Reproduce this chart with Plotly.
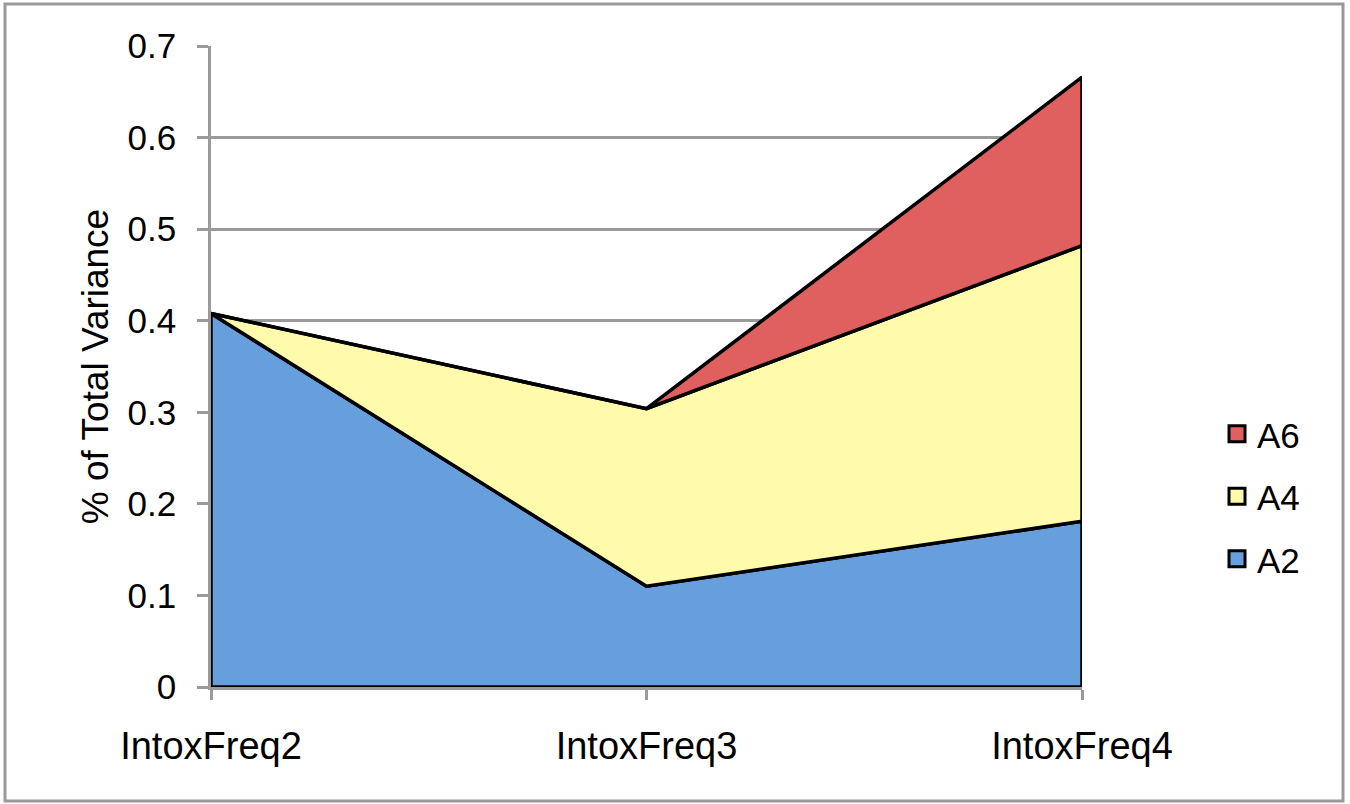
import plotly.graph_objects as go

# Variance components per intoxication-frequency model
categories = ["IntoxFreq2", "IntoxFreq3", "IntoxFreq4"]
series_names = ["A2", "A4", "A6"]
a2 = [0.408, 0.110, 0.181]
a4 = [0.0, 0.194, 0.301]
a6 = [0.0, 0.0, 0.184]
fills = ["#669FDC", "#FFFBAB", "#E06060"]

W, H = 1350, 804
L, R, T, B = 211, 268, 46, 117

fig = go.Figure()

# Build each stacked band as a closed polygon so every edge is outlined
lower = [0.0] * len(categories)
for name, vals, col in zip(series_names, [a2, a4, a6], fills):
    upper = [lo + v for lo, v in zip(lower, vals)]
    xs = categories + categories[::-1] + [categories[0]]
    ys = upper + lower[::-1] + [upper[0]]
    fig.add_trace(go.Scatter(
        x=xs, y=ys, name=name, mode="lines",
        fill="toself", fillcolor=col,
        line=dict(color="black", width=3.5),
        hoverinfo="skip", showlegend=False,
    ))
    lower = upper

# Square legend keys, top series listed first
for name, col in zip(series_names[::-1], fills[::-1]):
    fig.add_trace(go.Scatter(
        x=[None], y=[None], name=name, mode="markers",
        legendgroup=name,
        marker=dict(symbol="square", size=19, color=col,
                    line=dict(color="black", width=3)),
    ))

axis_gray = "#9A9A9A"
pw = W - L - R
ph = H - T - B
font_family = "Liberation Sans, Arial, sans-serif"

fig.update_layout(
    width=W, height=H,
    margin=dict(l=L, r=R, t=T, b=B),
    paper_bgcolor="white", plot_bgcolor="white",
    font=dict(family=font_family, size=35, color="black"),
    showlegend=True,
    legend=dict(
        traceorder="grouped",
        x=1.155, y=0.297, xanchor="left", yanchor="middle",
        font=dict(family=font_family, size=35, color="black"),
        itemwidth=30, tracegroupgap=14,
        bgcolor="rgba(0,0,0,0)",
    ),
    xaxis=dict(
        type="category", categoryorder="array", categoryarray=categories,
        range=[0, 2], showgrid=False,
        showline=True, linecolor=axis_gray, linewidth=2.5,
        ticks="outside", ticklen=10, tickwidth=2.5, tickcolor=axis_gray,
        tickfont=dict(family=font_family, size=38, color="black"),
        ticklabelstandoff=14,
        zeroline=False,
    ),
    yaxis=dict(
        range=[0, 0.7], dtick=0.1, tickformat="~g",
        showgrid=True, gridcolor=axis_gray, gridwidth=2.5,
        showline=True, linecolor=axis_gray, linewidth=2.5,
        ticks="outside", ticklen=11, tickwidth=2.5, tickcolor=axis_gray,
        tickfont=dict(family=font_family, size=35, color="black"),
        ticklabelstandoff=14,
        zeroline=False,
        title=dict(text="% of Total Variance", standoff=8,
                   font=dict(family=font_family, size=37, color="black")),
    ),
    shapes=[dict(
        type="rect", xref="paper", yref="paper",
        x0=(5 - L) / pw, x1=(1343 - L) / pw,
        y0=-(801 - T - ph) / ph, y1=1 + (T - 4) / ph,
        line=dict(color=axis_gray, width=3), fillcolor="rgba(0,0,0,0)",
        layer="below",
    )],
)

fig.write_html("out.html")
